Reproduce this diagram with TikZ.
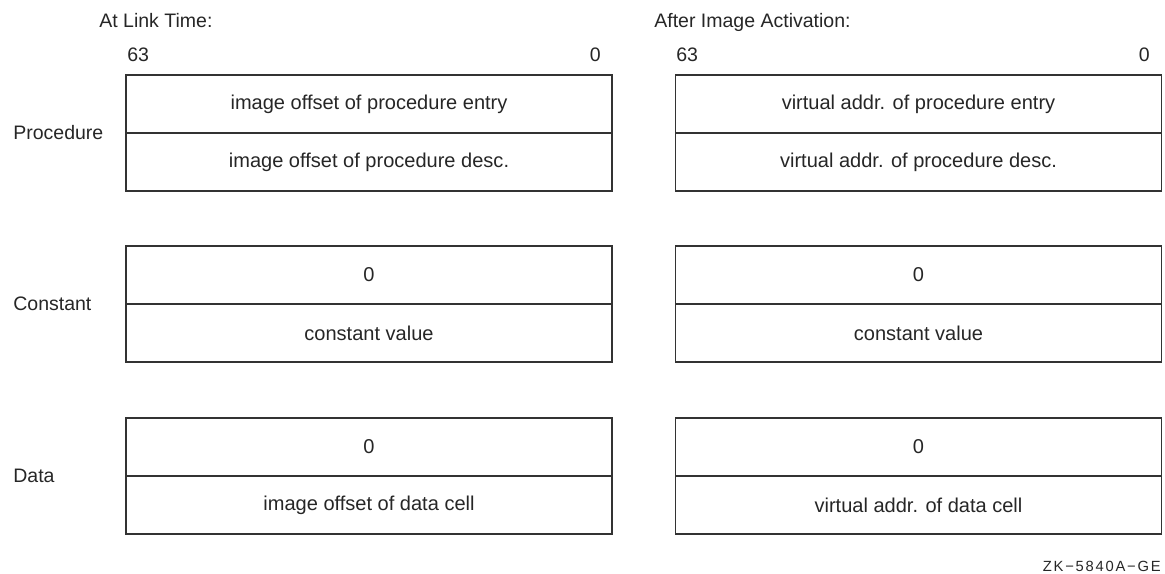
\documentclass[tikz,border=0pt]{standalone}
\usepackage{fontspec}
\setmainfont{Liberation Sans}
\newfontfamily\tagfont[LetterSpace=12]{Liberation Sans}
\begin{document}
\begin{tikzpicture}[x=0.02cm,y=-0.02cm,
    cell/.style={draw=black!80,line width=1pt,minimum width=9.72cm,minimum height=1.16cm,inner sep=0pt,font=\fontsize{11.4}{13}\selectfont,text=black!85},
    lbl/.style={inner sep=0pt,font=\fontsize{11.1}{13}\selectfont,text=black!85}]

    \useasboundingbox (0,0) rectangle (1165,574);

    \node[lbl,anchor=base west] (linkhdr) at (99,28) {At Link Time:};
    \node[lbl,anchor=base west] (acthdr) at (654,28) {After Image Activation:};
    \node[lbl,anchor=base west] (l63) at (127,62) {63};
    \node[lbl,anchor=base east] (l0) at (601,62) {0};
    \node[lbl,anchor=base west] (r63) at (676,62) {63};
    \node[lbl,anchor=base east] (r0) at (1150,62) {0};

    \node[lbl,anchor=west] (proc) at (13,133) {Procedure};
    \node[lbl,anchor=west] (const) at (13,304) {Constant};
    \node[lbl,anchor=west] (data) at (13,476) {Data};

    \node[cell] (lp1) at (369,104) {image offset of procedure entry};
    \node[cell] (lp2) at (369,162) {image offset of procedure desc.};
    \node[cell] (rp1) at (918.5,104) {virtual addr. of procedure entry};
    \node[cell] (rp2) at (918.5,162) {virtual addr. of procedure desc.};

    \node[cell] (lc1) at (369,275) {0};
    \node[cell] (lc2) at (369,333) {constant value};
    \node[cell] (rc1) at (918.5,275) {0};
    \node[cell] (rc2) at (918.5,333) {constant value};

    \node[cell] (ld1) at (369,447) {0};
    \node[cell] (ld2) at (369,505) {image offset of data cell};
    \node[cell] (rd1) at (918.5,447) {0};
    \node[cell] (rd2) at (918.5,505) {virtual addr. of data cell};

    \node[inner sep=0pt,anchor=base east,font=\tagfont\fontsize{8.4}{10}\selectfont,text=black!85] (tag) at (1161,571) {ZK−5840A−GE};
\end{tikzpicture}
\end{document}
